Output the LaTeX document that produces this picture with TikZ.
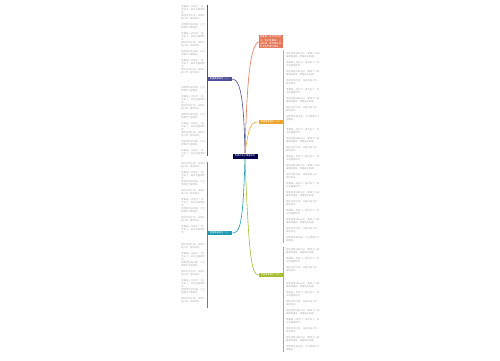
\documentclass[tikz,border=0pt]{standalone}
\usepackage{fontspec}
\newfontfamily\cjk{Noto Sans CJK SC}
\XeTeXlinebreaklocale "zh"
\XeTeXlinebreakskip = 0pt plus 0.2pt
\usetikzlibrary{positioning}

\newcommand\lfa{青春是一场远行，回不去了，却永远值得怀念。}
\newcommand\lfb{愿你历经千帆，归来仍是少年，眼中有光。}
\newcommand\lfc{那些奔跑过的日子，都成了心底最亮的星辰，照着前方的路。}
\newcommand\lfd{把梦想写进风里，让它替我们飞得更远。}

\begin{document}
\begin{tikzpicture}
      [x=0.02cm,y=-0.02cm
      ,txt/.style={font=\cjk\fontsize{1.3pt}{1.75pt}\selectfont}
      ,lfL/.style={txt,anchor=north west,inner sep=0pt,text width=0.5cm,align=left,text=gray!70}
      ,lfR/.style={txt,anchor=north west,inner sep=0pt,text width=0.68cm,align=left,text=gray!70}
      ,ctr/.style={txt,fill=blue!30!black,text=white,minimum width=0.5cm,minimum height=0.1cm,inner sep=0pt}
      ,br/.style={txt,text=white,minimum width=0.48cm,minimum height=0.09cm,inner sep=0pt}
      ,ln/.style={line width=0.35pt}
      ]
        \useasboundingbox (0,0) rectangle (500,360);
        \definecolor{cPu}{HTML}{4E4F9A}
        \definecolor{cSa}{HTML}{E4795A}
        \definecolor{cAm}{HTML}{EDA52E}
        \definecolor{cGr}{HTML}{A3BE2E}
        \definecolor{cTe}{HTML}{1E9BB4}

        % centre and branches
        \node[ctr] (c) at (245,156) {青春的句子唯美短句};
        \node[br,fill=cPu] (pu) at (220,79) {青春唯美短句（一）};
        \node[br,fill=cTe] (te) at (220,233) {青春唯美短句（二）};
        \node[br,fill=cAm] (am) at (271,122) {青春唯美短句（三）};
        \node[br,fill=cGr] (gr) at (271,275) {青春唯美短句（四）};
        \node[txt,fill=cSa,text=white,text width=0.44cm,align=left,inner sep=0.4pt,anchor=north west] (sa) at (259,35)
            {青春是一本太仓促的书，我们含着泪，一读再读，那些美好的句子陪伴我们成长。};

        \draw[ln,cPu] (c.north) .. controls (244,110) and (242,79) .. (pu.east);
        \draw[ln,cSa] (c.north) .. controls (247,80) and (250,45) .. (sa.west);
        \draw[ln,cAm] (c.north) .. controls (249,125) and (251,122) .. (am.west);
        \draw[ln,cGr] (c.south) .. controls (249,262) and (252,275) .. (gr.west);
        \draw[ln,cTe] (c.south) .. controls (243,225) and (240,233) .. (te.east);

        % brackets
        \coordinate (p1) at (207,5);   \coordinate (p2) at (207,156);
        \coordinate (t1) at (207,162); \coordinate (t2) at (207,308);
        \coordinate (a1) at (283,50);  \coordinate (a2) at (283,243);
        \coordinate (g1) at (283,247); \coordinate (g2) at (283,352);
        \draw[ln,cPu] (p1) -- (p2);
        \draw[ln,cTe] (t1) -- (t2);
        \draw[ln,cAm] (a1) -- (a2);
        \draw[ln,cGr] (g1) -- (g2);

        % leaves
        \foreach \y/\t in {5/a,14/b,23/d,32/a,41/b,50/d,59/a,68/b,86/d,95/a,104/b,113/d,122/a,131/b,140/d,149/a}
        {
            \node[lfL] at (181,\y) {\csname lf\t\endcsname};
        }
        \foreach \y/\t in {162/b,171/a,180/d,189/b,198/a,207/d,216/b,225/a,243/b,252/a,261/d,270/b,279/a,288/d,297/b}
        {
            \node[lfL] at (181,\y) {\csname lf\t\endcsname};
        }
        \foreach \y/\t in {52/c,61/a,70/c,79/b,88/a,97/c,106/b,115/d,128/a,137/c,146/b,155/a,164/c,173/b,182/a,191/c,200/b,209/a,218/c,227/b,236/d}
        {
            \node[lfR] at (286,\y) {\csname lf\t\endcsname};
        }
        \foreach \y/\t in {248/c,257/a,266/b,282/c,291/a,300/b,309/c,318/a,327/b,336/c,345/d}
        {
            \node[lfR] at (286,\y) {\csname lf\t\endcsname};
        }
       \end{tikzpicture}
\end{document}
